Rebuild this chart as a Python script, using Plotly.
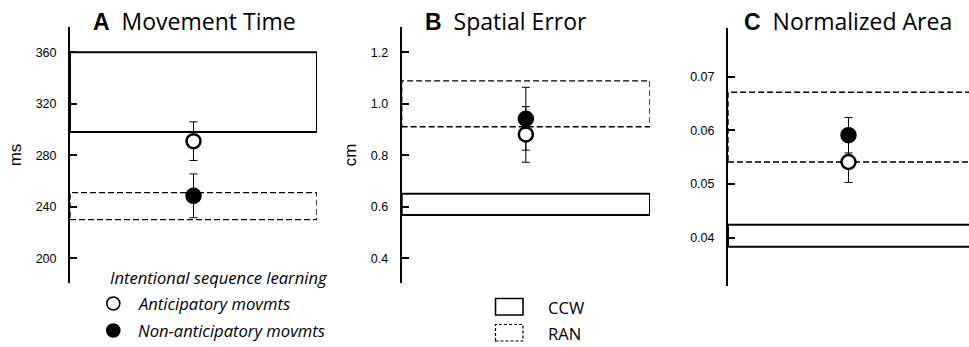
import plotly.graph_objects as go

W, H = 969, 347

# ---- data ----
letters = ["A", "B", "C"]
titles = ["Movement Time", "Spatial Error", "Normalized Area"]
y_titles = ["ms", "cm", ""]
ccw_low = [298, 0.568, 0.0383]
ccw_high = [360, 0.651, 0.0424]
ran_low = [230, 0.911, 0.0541]
ran_high = [251, 1.089, 0.0671]
antic_mean = [291, 0.881, 0.0541]
antic_err = [15, 0.108, 0.0038]
nonantic_mean = [248.5, 0.942, 0.0591]
nonantic_err = [17, 0.122, 0.0033]
tick_vals = [[200, 240, 280, 320, 360], [0.4, 0.6, 0.8, 1.0, 1.2], [0.04, 0.05, 0.06, 0.07]]
tick_fmt = ["d", ".1f", ".2f"]
y_ranges = [[180.8, 379.65], [0.3041, 1.2982], [0.0310, 0.07902]]
legend_title = "Intentional sequence learning"
legend_points = ["Anticipatory movmts", "Non-anticipatory movmts"]
legend_boxes = ["CCW", "RAN"]

# ---- layout geometry (pixels) ----
x_dom_px = [(70, 317), (401.7, 650), (728, 969)]
y_dom_px = [(27, 283), (27, 283), (28.3, 286)]
title_x_px = [194, 506, 848]

fig = go.Figure()
TICKFONT = dict(family="Liberation Sans, Arial, sans-serif", size=12.5, color="black")

for i in range(3):
    xa = "x" if i == 0 else f"x{i+1}"
    ya = "y" if i == 0 else f"y{i+1}"
    xkey = "xaxis" if i == 0 else f"xaxis{i+1}"
    ykey = "yaxis" if i == 0 else f"yaxis{i+1}"
    x0p, x1p = x_dom_px[i]
    y0p, y1p = y_dom_px[i]
    fig.layout[xkey] = dict(domain=[x0p / W, min(x1p / W, 1)], range=[0, 1], visible=False,
                            anchor=ya, fixedrange=True)
    fig.layout[ykey] = dict(domain=[1 - y1p / H, 1 - y0p / H], range=y_ranges[i], anchor=xa,
                            showline=True, linecolor="black", linewidth=2,
                            ticks="inside", ticklen=7, tickwidth=2, tickcolor="black",
                            tickvals=tick_vals[i], tickformat=tick_fmt[i],
                            ticklabelstandoff=9,
                            tickfont=TICKFONT, showgrid=False, zeroline=False,
                            title=dict(text=y_titles[i], standoff=10,
                                       font=dict(family="Liberation Sans, Arial, sans-serif", size=17, color="black")))

    # boxes: CCW solid, RAN dashed
    fig.add_shape(type="rect", xref=xa, yref=ya, x0=0, x1=1 if i < 2 else 1.2,
                  y0=ccw_low[i], y1=ccw_high[i],
                  line=dict(color="black", width=2), fillcolor="rgba(0,0,0,0)", layer="below")
    fig.add_shape(type="rect", xref=xa, yref=ya, x0=0, x1=1 if i < 2 else 1.2,
                  y0=ran_low[i], y1=ran_high[i],
                  line=dict(color="black", width=1.4, dash="6px,3px"), fillcolor="rgba(0,0,0,0)", layer="below")

    # points: filled first, open on top
    fig.add_trace(go.Scatter(x=[0.5], y=[nonantic_mean[i]], xaxis=xa, yaxis=ya, mode="markers",
                             marker=dict(symbol="circle", size=15, color="black",
                                         line=dict(color="black", width=1.5)),
                             error_y=dict(type="data", array=[nonantic_err[i]], color="black",
                                          thickness=1, width=4),
                             showlegend=False))
    fig.add_trace(go.Scatter(x=[0.5], y=[antic_mean[i]], xaxis=xa, yaxis=ya, mode="markers",
                             marker=dict(symbol="circle", size=14, color="white",
                                         line=dict(color="black", width=2.5)),
                             error_y=dict(type="data", array=[antic_err[i]], color="black",
                                          thickness=1, width=4),
                             showlegend=False))

    fig.add_annotation(xref="paper", yref="paper", x=title_x_px[i] / W, y=1 - 21 / H,
                       xanchor="center", yanchor="middle", showarrow=False,
                       text=f"<b><span style='font-family:Liberation Sans, Arial'>{letters[i]}</span></b>&nbsp; {titles[i]}",
                       font=dict(family="Open Sans, sans-serif", size=23, color="black"))

# ---- legend (paper coords) ----
LEGFONT = dict(family="Open Sans, sans-serif", size=16.6, color="black")
fig.add_annotation(xref="paper", yref="paper", x=108 / W, y=1 - 277 / H, xanchor="left", yanchor="middle",
                   showarrow=False, text=f"<i>{legend_title}</i>", font=LEGFONT)
for j, (lab, fill) in enumerate(zip(legend_points, ["white", "black"])):
    cy = 303.5 + j * 27
    fig.add_shape(type="circle", xref="paper", yref="paper", xsizemode="pixel", ysizemode="pixel",
                  xanchor=113.3 / W, yanchor=1 - cy / H, x0=-6.5, x1=6.5, y0=-6.5, y1=6.5,
                  line=dict(color="black", width=1.6), fillcolor=fill)
    fig.add_annotation(xref="paper", yref="paper", x=136 / W, y=1 - cy / H, xanchor="left", yanchor="middle",
                       showarrow=False, text=f"<i>{lab}</i>", font=LEGFONT)
for j, (lab, dash, lw) in enumerate(zip(legend_boxes, ["solid", "3px,2px"], [1.6, 1.2])):
    top = 298.5 + j * 26
    fig.add_shape(type="rect", xref="paper", yref="paper", x0=495.5 / W, x1=523 / W,
                  y0=1 - (top + 16.5) / H, y1=1 - top / H,
                  line=dict(color="black", width=lw, dash=dash), fillcolor="rgba(0,0,0,0)")
    fig.add_annotation(xref="paper", yref="paper", x=546 / W, y=1 - (top + 8.5) / H, xanchor="left",
                       yanchor="middle", showarrow=False, text=lab, font=LEGFONT)

fig.update_layout(width=W, height=H, margin=dict(l=0, r=0, t=0, b=0),
                  paper_bgcolor="white", plot_bgcolor="rgba(0,0,0,0)", showlegend=False)

fig.write_html("out.html")
